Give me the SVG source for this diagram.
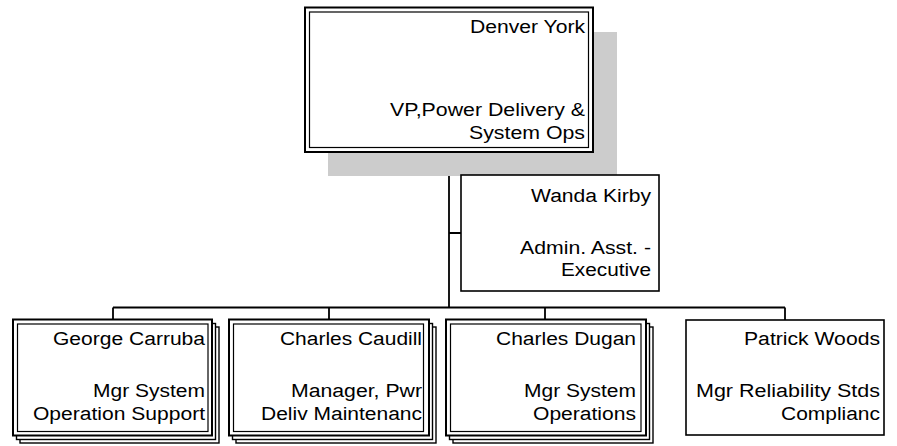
<svg xmlns="http://www.w3.org/2000/svg" width="897" height="446" viewBox="0 0 897 446">
<style>
.bg{fill:#ffffff}
.outer{fill:#ffffff;stroke:#000;stroke-width:2}
.inner{fill:none;stroke:#000;stroke-width:1.2}
.stack{fill:#ffffff;stroke:#000;stroke-width:1.4}
.single{fill:#ffffff;stroke:#000;stroke-width:1.6}
.shadow{fill:#cccccc}
.conn{fill:none;stroke:#000;stroke-width:1.8}
text{font-family:"Liberation Sans",Arial,sans-serif;font-size:18px;fill:#000;text-anchor:end}
</style>
<rect class="bg" x="0" y="0" width="897" height="446"/>
<g id="connectors">
<path class="conn" d="M449,152 V307.5 M449,233 H461 M113,307.5 H785 M113,307.5 V319.5 M329,307.5 V319.5 M545,307.5 V319.5 M785,307.5 V320"/>
</g>
<g id="denver">
<rect class="shadow" x="328" y="32" width="289" height="144"/>
<rect class="outer" x="305" y="7.5" width="288" height="144.5"/>
<rect class="inner" x="309.5" y="12" width="279" height="135.5"/>
<text x="585" y="33" textLength="115" lengthAdjust="spacingAndGlyphs">Denver York</text>
<text x="585" y="116" textLength="195" lengthAdjust="spacingAndGlyphs">VP,Power Delivery &amp;</text>
<text x="585" y="138.5" textLength="116" lengthAdjust="spacingAndGlyphs">System Ops</text>
</g>
<g id="wanda">
<rect class="single" x="461" y="175" width="198" height="116"/>
<text x="651" y="202" textLength="120" lengthAdjust="spacingAndGlyphs">Wanda Kirby</text>
<text x="651" y="253.5" textLength="131" lengthAdjust="spacingAndGlyphs">Admin. Asst. -</text>
<text x="651" y="276" textLength="90" lengthAdjust="spacingAndGlyphs">Executive</text>
</g>
<g id="george">
<rect class="stack" x="20" y="327" width="199" height="116"/>
<rect class="stack" x="16.5" y="323.5" width="199" height="116"/>
<rect class="outer" x="13" y="319.5" width="199" height="116"/>
<rect class="inner" x="17.5" y="324" width="190.5" height="107.5"/>
<text x="205" y="345" textLength="152" lengthAdjust="spacingAndGlyphs">George Carruba</text>
<text x="205" y="396.5" textLength="112" lengthAdjust="spacingAndGlyphs">Mgr System</text>
<text x="205" y="419.5" textLength="172" lengthAdjust="spacingAndGlyphs">Operation Support</text>
</g>
<g id="caudill">
<rect class="stack" x="236" y="327" width="200" height="116"/>
<rect class="stack" x="232.5" y="323.5" width="200" height="116"/>
<rect class="outer" x="229" y="319.5" width="200" height="116"/>
<rect class="inner" x="233.5" y="324" width="190" height="107.5"/>
<text x="422" y="345" textLength="142" lengthAdjust="spacingAndGlyphs">Charles Caudill</text>
<text x="422" y="396.5" textLength="131" lengthAdjust="spacingAndGlyphs">Manager, Pwr</text>
<text x="422" y="419.5" textLength="161" lengthAdjust="spacingAndGlyphs">Deliv Maintenanc</text>
</g>
<g id="dugan">
<rect class="stack" x="453" y="327" width="200" height="116"/>
<rect class="stack" x="449.5" y="323.5" width="200" height="116"/>
<rect class="outer" x="446" y="319.5" width="200" height="116"/>
<rect class="inner" x="450.5" y="324" width="190.5" height="107.5"/>
<text x="636" y="345" textLength="140" lengthAdjust="spacingAndGlyphs">Charles Dugan</text>
<text x="636" y="396.5" textLength="112" lengthAdjust="spacingAndGlyphs">Mgr System</text>
<text x="636" y="419.5" textLength="103" lengthAdjust="spacingAndGlyphs">Operations</text>
</g>
<g id="woods">
<rect class="single" x="686" y="320" width="198" height="115"/>
<text x="880" y="345" textLength="136" lengthAdjust="spacingAndGlyphs">Patrick Woods</text>
<text x="880" y="396.5" textLength="184" lengthAdjust="spacingAndGlyphs">Mgr Reliability Stds</text>
<text x="880" y="419.5" textLength="99" lengthAdjust="spacingAndGlyphs">Complianc</text>
</g>
</svg>
